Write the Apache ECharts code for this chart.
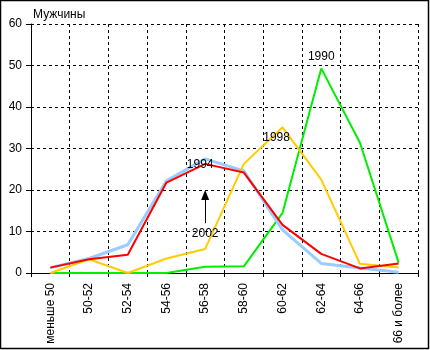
<!DOCTYPE html>
<html>
<head>
<meta charset="utf-8">
<script src="https://cdn.jsdelivr.net/npm/echarts@6/dist/echarts.min.js"></script>
<style>
  html, body { margin: 0; padding: 0; background: #fff; }
  #chart { width: 430px; height: 350px; }
</style>
</head>
<body>
<div id="chart"></div>
<script>
// Age groups of men (x axis)
const categories = ['меньше 50', '50-52', '52-54', '54-56', '56-58', '58-60', '60-62', '62-64', '64-66', '66 и более'];

// Share per age group, %, by survey year
const y1990 = [0, 0, 0, 0, 1.5, 1.6, 14.5, 49.3, 31.4, 2.5];
const y1994 = [1.3, 3.5, 6.8, 22.2, 27.5, 24.6, 10.4, 2.3, 1.2, 0.2];
const y1998 = [0, 3.3, 0, 3.5, 5.8, 26.3, 35.1, 22.5, 2.2, 1.3];
const y2002 = [1.3, 3.3, 4.4, 21.8, 26.3, 24.2, 11.6, 4.6, 1.1, 2.3];

// Value axis ticks
const yTicks = [0, 10, 20, 30, 40, 50, 60];

const FONT = "'Liberation Sans', Arial, sans-serif";

// Attach a year caption to one point of a series
function withCaption(values, index, text, label) {
  return values.map((v, i) => i === index
    ? { value: v, label: Object.assign({ show: true, formatter: text, color: '#000', fontSize: 12, fontFamily: FONT }, label) }
    : v);
}

function lineSeries(name, data, color, width) {
  return {
    name: name,
    type: 'line',
    data: data,
    symbol: 'circle',
    symbolSize: 0,
    showSymbol: true,
    lineStyle: { color: color, width: width },
    itemStyle: { color: color },
    emphasis: { disabled: true },
    animation: false
  };
}

const peak1990 = y1990.indexOf(Math.max(...y1990));
const peak1998 = y1998.indexOf(Math.max(...y1998));
const peak1994 = y1994.indexOf(Math.max(...y1994));
const peak2002 = y2002.indexOf(Math.max(...y2002));

const chart = echarts.init(document.getElementById('chart'), null, { renderer: 'canvas' });

const s2002 = lineSeries('2002', y2002, '#ff0000', 2);
// Arrow pointing up to the 2002 curve with its caption underneath
s2002.markLine = {
  silent: true,
  animation: false,
  symbol: ['none', 'triangle'],
  symbolSize: [8, 10],
  lineStyle: { color: '#000', type: 'solid', width: 1 },
  label: { show: true, position: 'start', formatter: '2002', color: '#000', fontSize: 12, fontFamily: FONT, distance: 4 },
  data: [[
    { coord: [categories[peak2002], 12.0] },
    { coord: [categories[peak2002], 18.8] }
  ]]
};

chart.setOption({
  backgroundColor: '#fff',
  animation: false,
  textStyle: { fontFamily: FONT },
  title: {
    text: 'Мужчины',
    left: 33,
    top: 9,
    padding: 0,
    textStyle: { fontSize: 12, fontWeight: 'normal', color: '#000', fontFamily: FONT }
  },
  grid: { left: 31, top: 24, right: 12, bottom: 77, containLabel: false },
  xAxis: {
    type: 'category',
    data: categories,
    boundaryGap: true,
    axisLine: { show: true, lineStyle: { color: '#000', width: 1 } },
    axisTick: { show: true, length: 4, alignWithLabel: false, lineStyle: { color: '#000' } },
    axisLabel: { rotate: 90, margin: 10, color: '#000', fontSize: 12, fontFamily: FONT, interval: 0 },
    splitLine: { show: true, lineStyle: { color: '#000', type: [3, 3], width: 1 } }
  },
  yAxis: {
    type: 'value',
    min: yTicks[0],
    max: yTicks[yTicks.length - 1],
    interval: yTicks[1] - yTicks[0],
    axisLine: { show: true, lineStyle: { color: '#000', width: 1 } },
    axisTick: { show: true, length: 5, lineStyle: { color: '#000' } },
    axisLabel: { margin: 9, color: '#000', fontSize: 12, fontFamily: FONT },
    splitLine: { show: true, lineStyle: { color: '#000', type: [3, 3], width: 1 } }
  },
  series: [
    lineSeries('1990', withCaption(y1990, peak1990, '1990', { position: 'top', distance: 6 }), '#00ee00', 2),
    lineSeries('1994', withCaption(y1994, peak1994, '1994', { position: 'inside', offset: [-5, 6] }), '#99ccff', 3),
    lineSeries('1998', withCaption(y1998, peak1998, '1998', { position: 'inside', offset: [-6, 10] }), '#ffcc00', 2),
    s2002
  ],
  graphic: [{
    type: 'rect',
    silent: true,
    shape: { x: 0.5, y: 0.5, width: 428, height: 348 },
    style: { fill: 'none', stroke: '#000', lineWidth: 1.5 },
    z: 100
  }]
});
</script>
</body>
</html>
